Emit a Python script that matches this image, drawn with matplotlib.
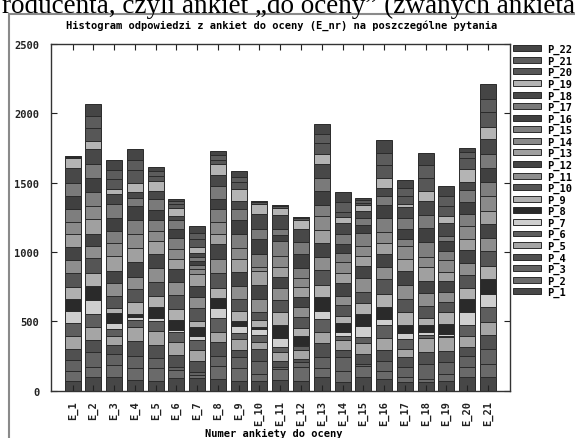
import numpy as np
import matplotlib
matplotlib.use("Agg")
import matplotlib.pyplot as plt
from matplotlib.patches import Rectangle

plt.rcParams["font.family"] = ["DejaVu Sans Mono"]
plt.rcParams["font.weight"] = "bold"
plt.rcParams["font.size"] = 7.5

surveys = ["E_%d" % i for i in range(1, 22)]
questions = ["P_%d" % i for i in range(1, 23)]

# answers per survey, P_1 .. P_22 from the bottom up
e_1 = [67, 72, 84, 77, 91, 94, 91, 84, 89, 103, 91, 94, 91, 91, 94, 91, 96, 103, 77, 5, 4, 3]
e_2 = [96, 72, 108, 89, 91, 96, 101, 103, 96, 108, 84, 89, 103, 96, 103, 101, 101, 103, 60, 96, 84, 89]
e_3 = [96, 90, 80, 60, 70, 50, 45, 70, 38, 84, 96, 84, 108, 96, 84, 96, 96, 72, 36, 72, 72, 65]
e_4 = [77, 86, 89, 108, 96, 55, 22, 19, 84, 96, 89, 108, 103, 101, 96, 103, 60, 43, 65, 89, 74, 82]
e_5 = [67, 96, 72, 96, 101, 72, 19, 84, 77, 103, 101, 101, 91, 71, 79, 73, 79, 61, 72, 35, 35, 30]
e_6 = [91, 58, 19, 91, 89, 72, 17, 72, 79, 101, 98, 90, 72, 70, 84, 60, 67, 30, 60, 25, 20, 20]
e_7 = [91, 24, 22, 79, 77, 70, 30, 67, 46, 91, 80, 79, 82, 38, 29, 29, 30, 30, 40, 60, 40, 56]
e_8 = [84, 96, 72, 96, 72, 101, 74, 77, 72, 108, 96, 108, 77, 80, 98, 70, 96, 79, 82, 24, 35, 33]
e_9 = [72, 91, 77, 50, 84, 43, 46, 43, 67, 90, 89, 103, 96, 80, 101, 96, 80, 60, 84, 55, 35, 43]
e_10 = [72, 48, 96, 84, 48, 55, 41, 17, 48, 55, 96, 103, 101, 29, 96, 108, 72, 108, 72, 10, 7, 4]
e_11 = [77, 79, 12, 48, 60, 36, 67, 96, 89, 89, 91, 77, 74, 77, 108, 40, 44, 103, 53, 10, 6, 4]
e_12 = [72, 101, 31, 26, 65, 26, 12, 60, 60, 77, 72, 77, 67, 67, 75, 96, 91, 89, 67, 12, 6, 6]
e_13 = [96, 67, 77, 101, 79, 96, 60, 101, 86, 106, 96, 103, 89, 103, 79, 101, 96, 96, 77, 79, 65, 72]
e_14 = [60, 84, 96, 53, 73, 30, 30, 60, 53, 79, 65, 91, 77, 79, 60, 71, 72, 79, 40, 39, 72, 67]
e_15 = [96, 80, 19, 72, 80, 40, 79, 84, 84, 80, 96, 90, 72, 72, 91, 58, 50, 53, 40, 20, 18, 16]
e_16 = [84, 60, 72, 77, 86, 96, 41, 89, 91, 108, 89, 91, 84, 79, 101, 91, 65, 60, 72, 91, 89, 91]
e_17 = [65, 31, 72, 72, 60, 72, 43, 58, 91, 96, 101, 103, 89, 91, 48, 77, 79, 79, 17, 60, 60, 56]
e_18 = [60, 24, 108, 89, 100, 20, 19, 53, 48, 91, 91, 89, 103, 72, 106, 103, 89, 103, 72, 96, 89, 90]
e_19 = [72, 48, 84, 84, 96, 12, 12, 72, 84, 77, 72, 79, 65, 86, 65, 72, 36, 96, 48, 72, 72, 71]
e_20 = [96, 72, 79, 65, 84, 77, 96, 91, 84, 91, 89, 91, 82, 91, 84, 89, 86, 58, 91, 84, 40, 30]
e_21 = [96, 96, 108, 101, 96, 110, 89, 108, 96, 108, 96, 96, 96, 108, 101, 103, 96, 108, 89, 108, 91, 110]

colors = ["#474747", "#6a6a6a", "#626262", "#505050", "#a5a5a5", "#5e5e5e",
          "#cfcfcf", "#2a2a2a", "#b0b0b0", "#555555", "#8e8e8e", "#444444",
          "#a0a0a0", "#8a8a8a", "#7e7e7e", "#404040", "#7a7a7a", "#484848",
          "#b4b4b4", "#575757", "#5c5c5c", "#454545"]

data = np.array([e_1, e_2, e_3, e_4, e_5, e_6, e_7, e_8, e_9, e_10, e_11,
                 e_12, e_13, e_14, e_15, e_16, e_17, e_18, e_19, e_20, e_21])

fig = plt.figure(figsize=(5.75, 4.39), dpi=100)
ax = fig.add_axes([50.5 / 575, 1 - 391.7 / 439, 459.5 / 575, 346.7 / 439])

x = np.arange(len(surveys))
base = np.zeros(len(surveys))
for j in range(len(questions)):
    ax.bar(x, data[:, j], bottom=base, width=0.77, color=colors[j],
           edgecolor="#2b2b2b", linewidth=0.7, label=questions[j])
    base += data[:, j]

ax.set_xlim(-1.06, 21.06)
ax.set_ylim(0, 2500)
ax.set_yticks([0, 500, 1000, 1500, 2000, 2500])
ax.set_xticks(x)
ax.set_xticklabels(surveys, rotation=90)
ax.tick_params(axis="both", direction="in", length=4, width=0.8,
               top=True, right=True, colors="#222222")
ax.tick_params(axis="y", pad=8)
ax.tick_params(axis="x", pad=7)
for s in ax.spines.values():
    s.set_color("#333333")
    s.set_linewidth(1.0)

fig.text(282 / 575, 1 - 26 / 439,
         "Histogram odpowiedzi z ankiet do oceny (E_nr) na poszczególne pytania",
         ha="center", va="center")
fig.text(274 / 575, 1 - 434 / 439, "Numer ankiety do oceny", ha="center", va="center")

handles, labels = ax.get_legend_handles_labels()
fig.legend(handles[::-1], labels[::-1], loc="upper left",
           bbox_to_anchor=(513 / 575, 1 - 45 / 439), frameon=False,
           handlelength=2.7, handleheight=0.5, handletextpad=0.6,
           labelspacing=0.13, borderpad=0, borderaxespad=0)

# page text above and the frame around the chart
fig.text(0.004, 1 - 13 / 439, "roducenta, czyli ankiet \u201edo oceny\u201d (zwanych ankieta",
         fontfamily="Liberation Serif", fontweight="normal", fontsize=19.5, va="baseline")
fig.add_artist(Rectangle((9 / 575, -0.1), 2, 1.1 - 15 / 439, transform=fig.transFigure,
                         fill=False, edgecolor="#8a8a8a", linewidth=1.5))

fig.savefig("out.png", dpi=100)
